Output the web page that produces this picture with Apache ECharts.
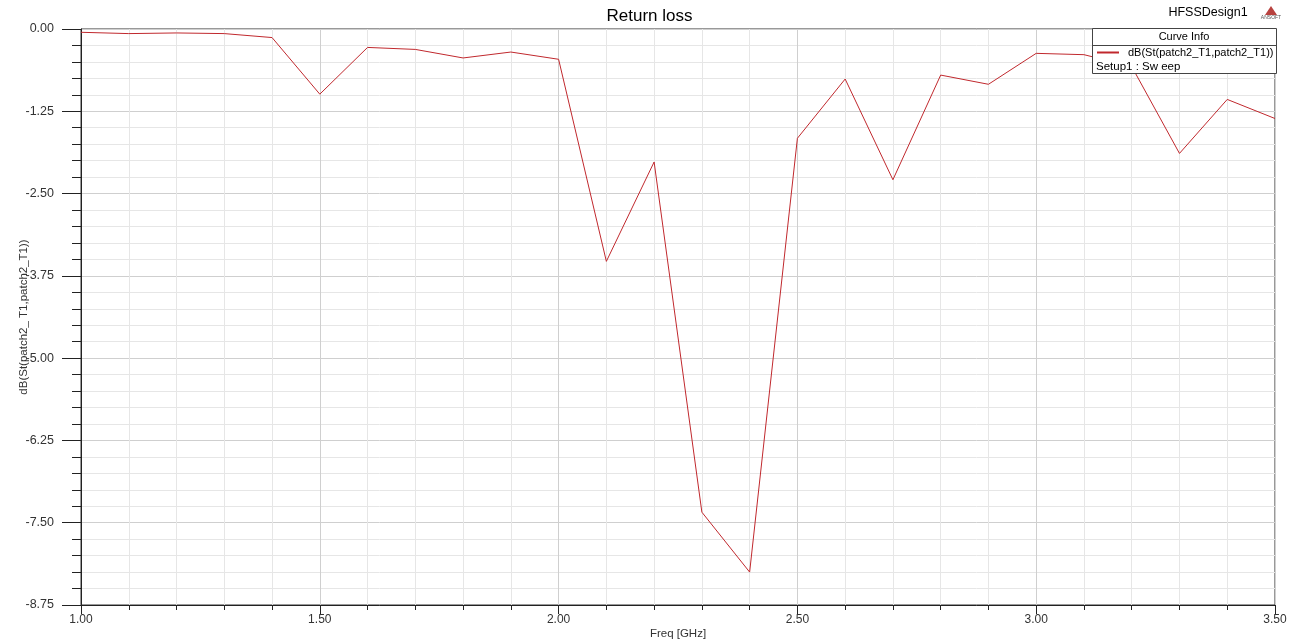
<!DOCTYPE html>
<html><head><meta charset="utf-8">
<script src="https://cdn.jsdelivr.net/npm/echarts@6/dist/echarts.min.js"></script>
<style>html,body{margin:0;padding:0;background:#fff}#c{width:1299px;height:644px}</style>
</head><body><div id="c"></div>
<script>
const freqGHz = [1.0,1.1,1.2,1.3,1.4,1.5,1.6,1.7,1.8,1.9,2.0,2.1,2.2,2.3,2.4,2.5,2.6,2.7,2.8,2.9,3.0,3.1,3.2,3.3,3.4,3.5];
const dBValues = [-0.05,-0.07,-0.06,-0.07,-0.13,-0.99,-0.28,-0.31,-0.44,-0.35,-0.46,-3.53,-2.02,-7.34,-8.25,-1.66,-0.76,-2.29,-0.70,-0.84,-0.37,-0.39,-0.57,-1.89,-1.07,-1.36];
const seriesName = 'dB(St(patch2_T1,patch2_T1))';
const chartTitle = 'Return loss';
const xName = 'Freq [GHz]';
const yName = 'dB(St(patch2_ T1,patch2_T1))';

const font = 'Liberation Sans, Arial, sans-serif';
const chart = echarts.init(document.getElementById('c'));
chart.setOption({
  animation: false,
  textStyle: {fontFamily: font},
  title: {text: chartTitle, left: 'center', top: 3, textStyle: {fontSize: 17, fontWeight: 'normal', color: '#000', fontFamily: font}},
  grid: {left: 81, right: 24, top: 29, bottom: 39, show: true, borderColor: '#333', borderWidth: 1,
    containLabel: false, outerBoundsMode: 'none'},
  legend: {show: true, left: 1097, top: 47, z: 30, itemWidth: 22, itemHeight: 2, icon: 'rect', itemGap: 5, padding: 0,
    textStyle: {fontSize: 11, color: '#000', fontFamily: font, padding: [0,0,0,4]}, data: [seriesName]},
  xAxis: {type: 'value', min: 1.0, max: 3.5, interval: 0.5,
    name: xName, nameLocation: 'middle', nameGap: 23, nameMoveOverlap: false, nameTextStyle: {fontSize: 11.5, color: '#333'},
    axisLine: {show: true, onZero: false, lineStyle: {color: '#222'}},
    axisTick: {show: true, length: 9, lineStyle: {color: '#222'}},
    minorTick: {show: true, splitNumber: 5, length: 5, lineStyle: {color: '#222'}},
    axisLabel: {formatter: v => v.toFixed(2), fontSize: 12, color: '#333', margin: 9},
    splitLine: {show: true, lineStyle: {color: '#cfcfcf'}},
    minorSplitLine: {show: true, lineStyle: {color: '#e6e6e6'}}
  },
  yAxis: {type: 'value', min: -8.75, max: 0, interval: 1.25,
    name: yName, nameLocation: 'middle', nameGap: 51, nameMoveOverlap: false, nameRotate: 90, nameTextStyle: {fontSize: 11.5, color: '#333'},
    axisLine: {show: true, onZero: false, lineStyle: {color: '#222'}},
    axisTick: {show: true, length: 19, lineStyle: {color: '#222'}},
    minorTick: {show: true, splitNumber: 5, length: 9, lineStyle: {color: '#222'}},
    axisLabel: {formatter: v => v.toFixed(2), fontSize: 12.5, color: '#333', margin: 27},
    splitLine: {show: true, lineStyle: {color: '#cfcfcf'}},
    minorSplitLine: {show: true, lineStyle: {color: '#e6e6e6'}}
  },
  series: [{name: seriesName, type: 'line', data: freqGHz.map((f,i)=>[f, dBValues[i]]),
    showSymbol: false, symbol: 'none', lineStyle: {color: '#c0282d', width: 1}, itemStyle: {color: '#c0282d'}, z: 3}],
  graphic: [
    {type: 'rect', shape: {x: 1092.5, y: 28.5, width: 184, height: 45}, style: {fill: '#fff', stroke: '#444', lineWidth: 1}, z: 10},
    {type: 'line', shape: {x1: 1092, y1: 45.5, x2: 1277, y2: 45.5}, style: {stroke: '#444', lineWidth: 1}, z: 11},
    {type: 'text', x: 1184, y: 37, style: {text: 'Curve Info', font: '11px ' + font, fill: '#000', align: 'center', verticalAlign: 'middle'}, z: 11},
    {type: 'text', x: 1096, y: 67, style: {text: 'Setup1 : Sw eep', font: '11.5px ' + font, fill: '#000', align: 'left', verticalAlign: 'middle'}, z: 11},
    {type: 'text', x: 1208, y: 13, style: {text: 'HFSSDesign1', font: '12.5px ' + font, fill: '#000', align: 'center', verticalAlign: 'middle'}, z: 11},
    {type: 'polygon', shape: {points: [[1271,6],[1265,15],[1277,15]]}, style: {fill: '#b8423f'}, z: 11},
    {type: 'text', x: 1271, y: 18, style: {text: 'ANSOFT', font: '5px ' + font, fill: '#555', align: 'center', verticalAlign: 'middle'}, z: 11}
  ]
});
</script></body></html>
